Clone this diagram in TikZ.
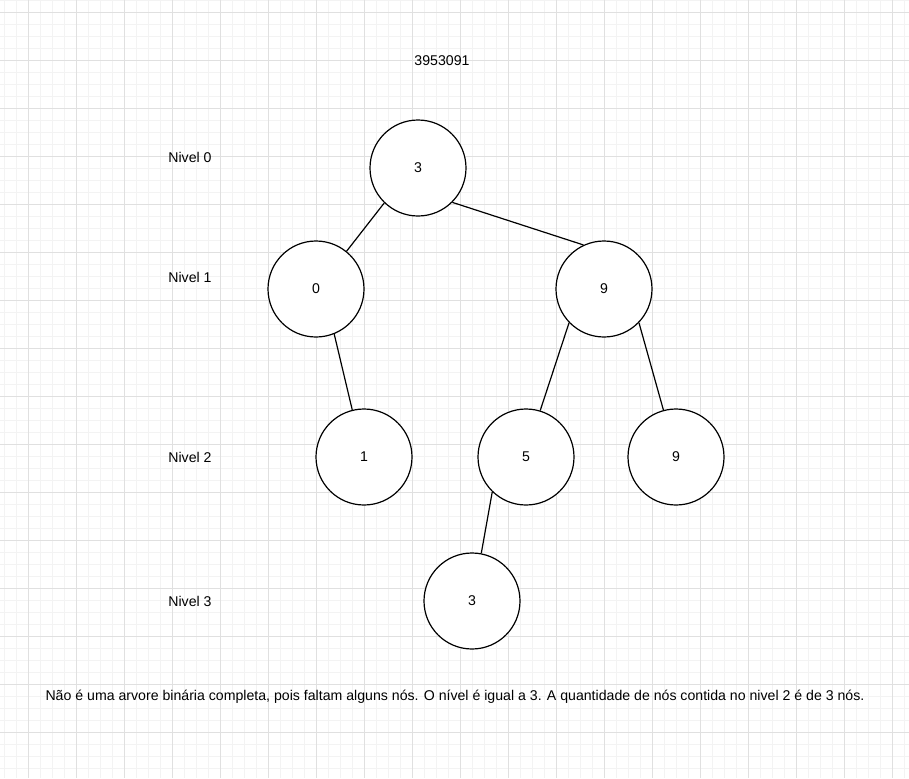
\documentclass[tikz,border=0pt]{standalone}
\usepackage{fontspec}
\setmainfont{Liberation Sans}
\usepackage{xcolor}
\usepackage{tikz}
\usetikzlibrary{arrows.meta, positioning}

\definecolor{gridmajor}{HTML}{E0E0E0}
\definecolor{gridminor}{HTML}{F3F3F3}

\begin{document}
\begin{tikzpicture}[
    x=0.75pt, y=-0.75pt,
    vertex/.style={circle, draw, fill=white, minimum size=72pt, inner sep=0pt, font=\fontsize{10.6}{12.7}\selectfont},
    level label/.style={font=\fontsize{10.6}{12.7}\selectfont, inner sep=0pt},
    minor line/.style={draw=gridminor, line width=0.75pt},
    major line/.style={draw=gridmajor, line width=0.75pt},
    line width=0.9pt, draw=black
]
\useasboundingbox (0,0) rectangle (909,778);

% grid
\foreach \x in {4,16,...,904} \draw[minor line] (\x,0) -- (\x,778);
\foreach \y in {0,12,...,776} \draw[minor line] (0,\y) -- (909,\y);
\foreach \x in {28,76,...,892} \draw[major line] (\x,0) -- (\x,778);
\foreach \y in {12,60,...,770} \draw[major line] (0,\y) -- (909,\y);

\node[level label] (title) at (442,61) {3953091};

\node[level label] (L0) at (190,157) {Nivel 0};
\node[level label] (L1) at (190,277) {Nivel 1};
\node[level label] (L2) at (190,457) {Nivel 2};
\node[level label] (L3) at (190,601) {Nivel 3};

\node[vertex] (n3) at (418,168) {3};
\node[vertex] (n0) at (316,289) {0};
\node[vertex] (n9) at (604,289) {9};
\node[vertex] (n1) at (364,457) {1};
\node[vertex] (n5) at (526,457) {5};
\node[vertex] (n9b) at (676,457) {9};
\node[vertex] (n3b) at (472,601) {3};

\draw (n3.226) -- (n0.51);
\draw (n3.-45) -- (n9.115);
\draw (n0.-68) -- (n1.104);
\draw (n9.224) -- (n5.73);
\draw (n9.-44) -- (n9b.105);
\draw (n5.226) -- (n3b.79);

\node[level label] (note) at (455,697) {Não é uma arvore binária completa, pois faltam alguns nós. O nível é igual a 3. A quantidade de nós contida no nivel 2 é de 3 nós.};
\end{tikzpicture}
\end{document}
